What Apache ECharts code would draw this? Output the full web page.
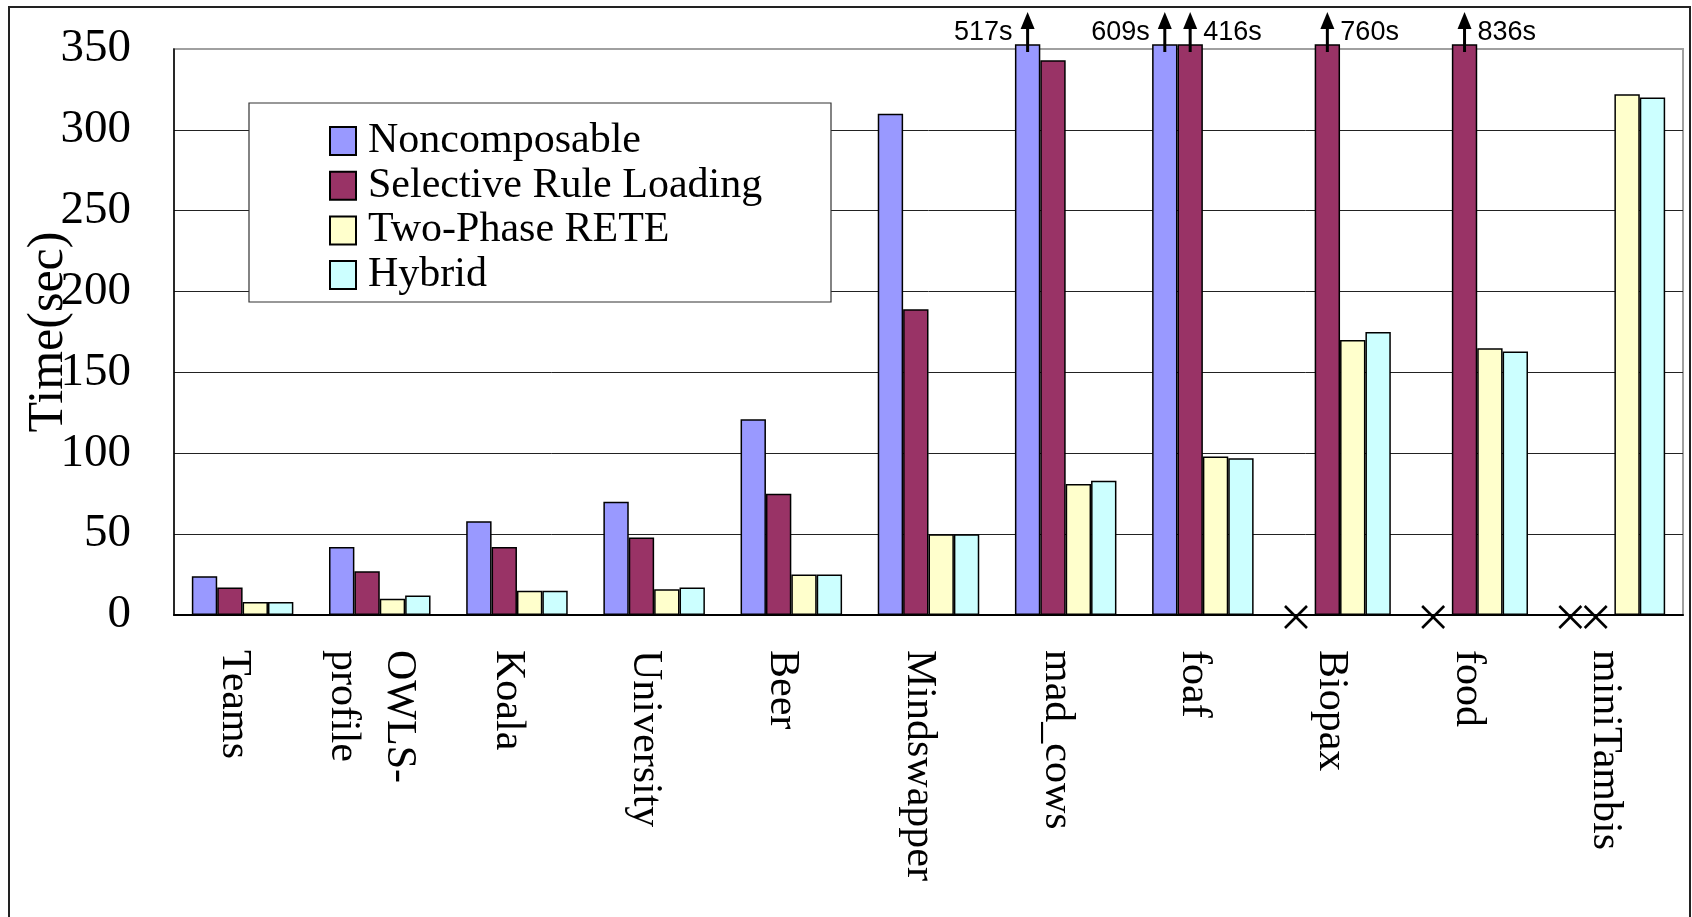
<!DOCTYPE html>
<html>
<head>
<meta charset="utf-8">
<title>Time per ontology</title>
<script src="https://cdn.jsdelivr.net/npm/echarts@6/dist/echarts.min.js"></script>
<style>
  html, body { margin: 0; padding: 0; background: #fff; }
  #main { width: 1692px; height: 917px; }
</style>
</head>
<body>
<div id="main"></div>
<script>
const categories = ['Teams', 'OWLS-\nprofile', 'Koala', 'University', 'Beer', 'Mindswapper', 'mad_cows', 'foaf', 'Biopax', 'food', 'miniTambis'];
const seriesNames = ['Noncomposable', 'Selective Rule Loading', 'Two-Phase RETE', 'Hybrid'];
// null = no result (drawn as an X)
const noncomposable = [24, 42, 58, 70, 121, 310, 517, 609, null, null, null];
const selective = [17, 27, 42, 48, 75, 189, 343, 416, 760, 836, null];
const twoPhase = [8, 10, 15, 16, 25, 50, 81, 98, 170, 165, 322];
const hybrid = [8, 12, 15, 17, 25, 50, 83, 97, 175, 163, 320];
const yTicks = [0, 50, 100, 150, 200, 250, 300, 350];

const colors = ['#9999ff', '#993366', '#ffffcc', '#ccffff'];
const allSeries = [noncomposable, selective, twoPhase, hybrid];
const yMax = yTicks[yTicks.length - 1];
const catGap = 0.26;
const serif = '"Liberation Serif", "Times New Roman", serif';

// bars taller than the axis are cut at the top and marked with an arrow + real value
const marks = [];
allSeries.forEach((vals, s) => {
  vals.forEach((v, i) => {
    if (v == null) marks.push([i, s, 0, 1]);
    else if (v > yMax) marks.push([i, s, v, 0]);
  });
});

const chart = echarts.init(document.getElementById('main'));

function renderMark(params, api) {
  const cat = api.value(0), s = api.value(1), v = api.value(2), kind = api.value(3);
  const base = api.coord([cat, 0]);
  const band = api.size([1, 0])[0];
  const barW = band * (1 - catGap) / 4;
  const x = base[0] + (s - 1.5) * barW;
  if (kind === 1) {
    const cx = x - 6, cy = base[1] + 2, h = 11;
    return {
      type: 'group',
      children: [
        {type: 'line', shape: {x1: cx - h, y1: cy - h, x2: cx + h, y2: cy + h}, style: {stroke: '#000', lineWidth: 2.5}},
        {type: 'line', shape: {x1: cx - h, y1: cy + h, x2: cx + h, y2: cy - h}, style: {stroke: '#000', lineWidth: 2.5}}
      ]
    };
  }
  const top = api.coord([cat, yMax])[1];
  const left = s === 0;
  return {
    type: 'group',
    children: [
      {type: 'line', shape: {x1: x, y1: top + 3, x2: x, y2: top - 22}, style: {stroke: '#000', lineWidth: 3}},
      {type: 'polygon', shape: {points: [[x - 7, top - 20], [x + 7, top - 20], [x, top - 37]]}, style: {fill: '#000'}},
      {type: 'text', x: left ? x - 15 : x + 13, y: top - 16, style: {
        text: v + 's', fill: '#000', font: '27px "Liberation Sans", Arial, sans-serif',
        align: left ? 'right' : 'left', verticalAlign: 'middle'
      }}
    ]
  };
}

const option = {
  animation: false,
  backgroundColor: '#fff',
  grid: {left: 174, right: 9, top: 49, bottom: 302, outerBoundsMode: 'none',
    show: true, borderColor: '#a0a0a0', borderWidth: 2},
  legend: {
    data: seriesNames,
    orient: 'vertical',
    left: 324,
    top: 114,
    z: 10,
    itemWidth: 26,
    itemHeight: 28,
    itemGap: 0.7,
    icon: 'rect',
    textStyle: {fontFamily: serif, fontSize: 42, lineHeight: 44, color: '#000', padding: [0, 0, 0, 7]}
  },
  graphic: [
    {type: 'rect', z: 100, shape: {x: 9, y: 7, width: 1681, height: 940}, style: {fill: 'none', stroke: '#222', lineWidth: 2}},
    {type: 'rect', z: 5, shape: {x: 249, y: 103, width: 582, height: 199}, style: {fill: '#fff', stroke: '#333', lineWidth: 1.2}}
  ],
  xAxis: {
    type: 'category',
    data: categories,
    axisLine: {lineStyle: {color: '#000', width: 2}},
    axisTick: {inside: true, length: 12, lineStyle: {color: '#555', width: 1}},
    axisLabel: {rotate: -90, interval: 0, margin: 35,
      formatter: v => v.split('\n').map(t => '{c|' + t + '}').join('\n'),
      rich: {c: {fontFamily: serif, fontSize: 42, lineHeight: 56, color: '#000', padding: [18, 0, 0, 0]}}}
  },
  yAxis: {
    type: 'value',
    min: 0,
    max: yMax,
    interval: 50,
    name: 'Time(sec)',
    nameLocation: 'middle',
    nameRotate: 90,
    nameGap: 100,
    nameMoveOverlap: false,
    nameTextStyle: {fontFamily: serif, fontSize: 50, color: '#000'},
    axisLine: {show: true, lineStyle: {color: '#000', width: 1.5}},
    axisTick: {show: false},
    axisLabel: {margin: 43, fontFamily: serif, fontSize: 47, color: '#000',
      formatter: v => yTicks.indexOf(v) >= 0 ? String(v) : ''},
    splitLine: {lineStyle: {color: ['#222', '#222', '#222', '#222', '#222', '#222', '#222', '#a0a0a0'], width: 1}}
  },
  series: allSeries.map((vals, s) => ({
    name: seriesNames[s],
    type: 'bar',
    barGap: '0%',
    barCategoryGap: (catGap * 100) + '%',
    data: vals.map(v => v == null ? null : Math.min(v, yMax + 3)),
    clip: false,
    itemStyle: {color: colors[s], borderColor: '#000', borderWidth: 1.5}
  })).concat([{
    name: 'marks',
    type: 'custom',
    data: marks,
    renderItem: renderMark,
    clip: false,
    silent: true,
    z: 5
  }])
};

chart.setOption(option);
</script>
</body>
</html>
